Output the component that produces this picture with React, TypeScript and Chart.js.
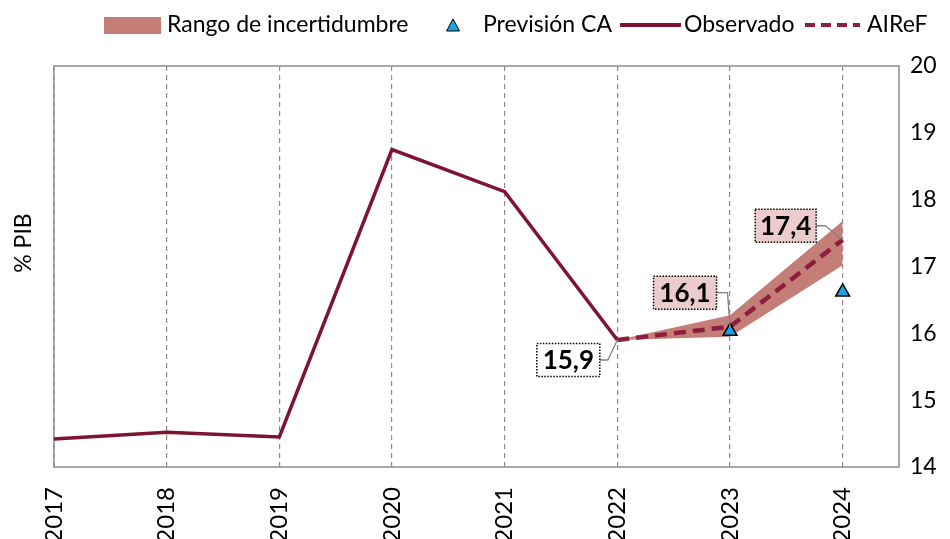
import React, { useEffect, useRef } from "react";
import { Chart, registerables } from "chart.js";
Chart.register(...registerables);

const years = [2017, 2018, 2019, 2020, 2021, 2022, 2023, 2024];
const observado = [14.42, 14.52, 14.45, 18.75, 18.12, 15.9];
const airefYears = [2022, 2023, 2024];
const airef = [15.9, 16.1, 17.4];
const rangoSup = [15.9, 16.27, 17.68];
const rangoInf = [15.9, 15.95, 17.02];
const prevCAYears = [2023, 2024];
const prevCA = [16.03, 16.62];
const yTicks = [14, 15, 16, 17, 18, 19, 20];
const labelTexts = ["15,9", "16,1", "17,4"];

const MAROON = "#7E1430";
const MAROON_D = "#8E1E3E";
const RANGE = "#C47D77";
const TRI = "#1AA3E0";
const FONT = "Lato";

const toXY = (xs: number[], ys: number[]) => ys.map((y, i) => ({ x: xs[i], y }));

const boxOffsets = [
  { dx: -49, dy: 20, w: 63, h: 33, fill: "#FFFFFF", lx: 8 },
  { dx: -45, dy: -34, w: 63, h: 33, fill: "#EBCBCB", lx: 11 },
  { dx: -57, dy: -14, w: 61, h: 33, fill: "#EBCBCB", lx: 9 },
];

const framePlugin = {
  id: "frame",
  beforeDatasetsDraw(chart: any) {
    const { ctx, chartArea: a } = chart;
    ctx.save();
    ctx.strokeStyle = "#8C8C8C";
    ctx.lineWidth = 1.5;
    ctx.setLineDash([]);
    ctx.strokeRect(a.left, a.top, a.right - a.left, a.bottom - a.top);
    ctx.restore();
  },
};

const labelsPlugin = {
  id: "labelsBoxes",
  afterDatasetsDraw(chart: any) {
    const { ctx } = chart;
    const xs = chart.scales.x;
    const ys = chart.scales.y;
    ctx.save();
    airef.forEach((v, i) => {
      const px = xs.getPixelForValue(airefYears[i]);
      const py = ys.getPixelForValue(v);
      const o = boxOffsets[i];
      const cx = px + o.dx;
      const cy = py + o.dy;
      const right = cx + o.w / 2;
      ctx.setLineDash([]);
      ctx.strokeStyle = "#808080";
      ctx.lineWidth = 1.3;
      ctx.beginPath();
      ctx.moveTo(right, cy);
      ctx.lineTo(right + o.lx, cy);
      ctx.lineTo(px, py);
      ctx.stroke();
      ctx.fillStyle = o.fill;
      ctx.fillRect(cx - o.w / 2, cy - o.h / 2, o.w, o.h);
      ctx.setLineDash([1.5, 1.5]);
      ctx.strokeStyle = "#000";
      ctx.lineWidth = 1.5;
      ctx.strokeRect(cx - o.w / 2, cy - o.h / 2, o.w, o.h);
      ctx.setLineDash([]);
      ctx.fillStyle = "#000";
      ctx.font = `bold 26px ${FONT}`;
      ctx.textAlign = "center";
      ctx.textBaseline = "middle";
      ctx.fillText(labelTexts[i], cx, cy + 1);
    });
    ctx.restore();
  },
};

const legendPlugin = {
  id: "customLegend",
  afterDraw(chart: any) {
    const { ctx } = chart;
    ctx.save();
    const y = 25;
    ctx.font = `23px ${FONT}`;
    ctx.textBaseline = "middle";
    ctx.textAlign = "left";
    ctx.fillStyle = "#000";
    ctx.fillStyle = RANGE;
    ctx.fillRect(104, y - 8, 57, 17);
    ctx.fillStyle = "#000";
    ctx.fillText("Rango de incertidumbre", 167, y);
    const tx = 453;
    ctx.beginPath();
    ctx.moveTo(tx, y - 6);
    ctx.lineTo(tx + 6.5, y + 6);
    ctx.lineTo(tx - 6.5, y + 6);
    ctx.closePath();
    ctx.fillStyle = TRI;
    ctx.fill();
    ctx.strokeStyle = "#000";
    ctx.lineWidth = 1;
    ctx.stroke();
    ctx.fillStyle = "#000";
    ctx.fillText("Previsión CA", 483, y);
    ctx.strokeStyle = MAROON;
    ctx.lineWidth = 4;
    ctx.beginPath();
    ctx.moveTo(620, y);
    ctx.lineTo(681, y);
    ctx.stroke();
    ctx.fillText("Observado", 684, y);
    ctx.strokeStyle = MAROON_D;
    ctx.setLineDash([10, 6]);
    ctx.beginPath();
    ctx.moveTo(805, y);
    ctx.lineTo(860, y);
    ctx.stroke();
    ctx.setLineDash([]);
    ctx.fillText("AIReF", 867, y);
    ctx.save();
    ctx.translate(24, 243);
    ctx.rotate(-Math.PI / 2);
    ctx.textAlign = "center";
    ctx.font = `23px ${FONT}`;
    ctx.fillText("% PIB", 0, 0);
    ctx.restore();
    ctx.restore();
  },
};

export default function App() {
  const ref = useRef<HTMLCanvasElement | null>(null);
  useEffect(() => {
    document.body.style.margin = "0";
    if (!ref.current) return;
    const chart = new Chart(ref.current, {
      type: "line",
      data: {
        datasets: [
          {
            label: "Previsión CA",
            data: toXY(prevCAYears, prevCA),
            showLine: false,
            pointStyle: "triangle",
            pointRadius: 8,
            pointBackgroundColor: TRI,
            pointBorderColor: "#000",
            pointBorderWidth: 1.5,
            order: 1,
          },
          {
            label: "AIReF",
            data: toXY(airefYears, airef),
            borderColor: MAROON_D,
            borderWidth: 4.5,
            borderDash: [12, 7],
            pointRadius: 0,
            fill: false,
            order: 2,
          },
          {
            label: "Observado",
            data: toXY(years.slice(0, observado.length), observado),
            borderColor: MAROON,
            borderWidth: 3.5,
            pointRadius: 0,
            fill: false,
            order: 3,
          },
          {
            label: "Rango sup",
            data: toXY(airefYears, rangoSup),
            borderWidth: 0,
            borderColor: RANGE,
            backgroundColor: RANGE,
            pointRadius: 0,
            fill: "+1",
            order: 4,
          },
          {
            label: "Rango inf",
            data: toXY(airefYears, rangoInf),
            borderWidth: 0,
            borderColor: RANGE,
            pointRadius: 0,
            fill: false,
            order: 5,
          },
        ],
      },
      options: {
        responsive: false,
        animation: false,
        layout: { padding: { top: 66, left: 54, right: 0, bottom: 0 } },
        plugins: {
          legend: { display: false },
          tooltip: { enabled: false },
        },
        scales: {
          x: {
            type: "linear",
            min: 2017,
            max: 2024.5,
            afterBuildTicks: (s: any) => {
              s.ticks = years.map((v) => ({ value: v }));
            },
            afterFit: (s: any) => {
              s.height = 72;
            },
            ticks: {
              autoSkip: false,
              minRotation: 90,
              maxRotation: 90,
              padding: 20,
              color: "#000",
              font: { family: FONT, size: 24 },
              callback: (v: any) => String(v),
            },
            grid: {
              color: "#8C8C8C",
              lineWidth: 1.2,
              drawTicks: false,
            },
            border: { display: false, dash: [5, 4] },
          },
          y: {
            position: "right",
            min: 14,
            max: 20,
            afterBuildTicks: (s: any) => {
              s.ticks = yTicks.map((v) => ({ value: v }));
            },
            afterFit: (s: any) => {
              s.width = 51;
            },
            ticks: {
              padding: 11,
              color: "#000",
              font: { family: FONT, size: 23 },
              callback: (v: any) => String(v),
            },
            grid: { display: false, drawTicks: false },
            border: { display: false },
          },
        },
      },
      plugins: [framePlugin, labelsPlugin, legendPlugin],
    });
    return () => chart.destroy();
  }, []);
  return <canvas ref={ref} width={950} height={539} style={{ display: "block" }} />;
}
